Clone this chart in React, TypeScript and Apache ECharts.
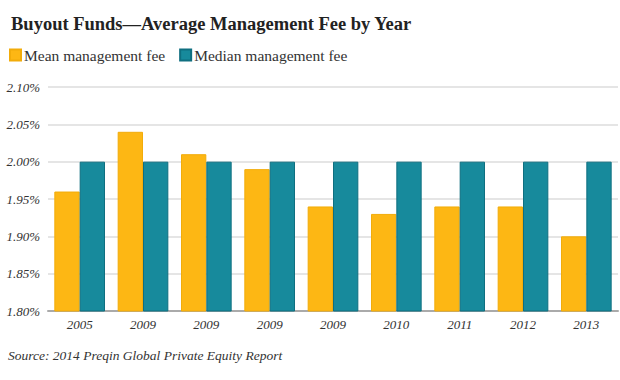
import React, { useEffect, useRef } from "react";
import * as echarts from "echarts";

const categories = ["2005", "2009", "2009", "2009", "2009", "2010", "2011", "2012", "2013"];
const meanFee = [1.96, 2.04, 2.01, 1.99, 1.94, 1.93, 1.94, 1.94, 1.9];
const medianFee = [2.0, 2.0, 2.0, 2.0, 2.0, 2.0, 2.0, 2.0, 2.0];
const seriesNames = ["Mean management fee", "Median management fee"];
const titleText = "Buyout Funds\u2014Average Management Fee by Year";
const sourceText = "Source: 2014 Preqin Global Private Equity Report";

export default function App() {
  const ref = useRef<HTMLDivElement>(null);
  useEffect(() => {
    if (!ref.current) return;
    const chart = echarts.init(ref.current, null, { renderer: "svg" });
    const serif = "'Liberation Serif', 'DejaVu Serif', serif";
    chart.setOption({
      animation: false,
      backgroundColor: "#ffffff",
      title: {
        text: titleText,
        left: 6,
        top: 9,
        textStyle: { fontFamily: serif, fontWeight: "bold", fontSize: 18.5, color: "#222" },
      },
      legend: {
        left: 4,
        top: 42,
        icon: "rect",
        itemWidth: 11,
        itemHeight: 11,
        itemGap: 14,
        textStyle: { fontFamily: serif, fontSize: 15.5, color: "#333", padding: [0, 0, 0, -2] },
        data: seriesNames,
      },
      graphic: [
        {
          type: "text",
          left: 8,
          top: 348,
          style: { text: sourceText, font: "italic 13.5px " + serif, fill: "#333" },
        },
      ],
      grid: { left: 48, right: 2, top: 87, bottom: 69, containLabel: false },
      xAxis: {
        type: "category",
        data: categories,
        axisLine: { lineStyle: { color: "#aaaaaa", width: 2 } },
        axisTick: { show: false },
        axisLabel: { fontFamily: serif, fontStyle: "italic", fontSize: 13, color: "#333", margin: 7 },
      },
      yAxis: {
        type: "value",
        min: 1.8,
        max: 2.1,
        interval: 0.05,
        axisLine: { show: false },
        axisTick: { show: false },
        splitLine: { lineStyle: { color: "#dddddd", width: 1.5 } },
        axisLabel: {
          fontFamily: serif,
          fontStyle: "italic",
          fontSize: 13,
          color: "#333",
          margin: 8,
          formatter: (v: number) => v.toFixed(2) + "%",
        },
      },
      series: [
        {
          name: seriesNames[0],
          type: "bar",
          data: meanFee,
          barGap: "0%",
          barCategoryGap: "20%",
          itemStyle: { color: "#fdb714", borderColor: "#f2ac0a", borderWidth: 1 },
        },
        {
          name: seriesNames[1],
          type: "bar",
          data: medianFee,
          itemStyle: { color: "#178a9c", borderColor: "#0f6f80", borderWidth: 1 },
        },
      ],
    });
    return () => chart.dispose();
  }, []);
  return <div ref={ref} style={{ width: 620, height: 380, position: "absolute", left: 0, top: 0 }} />;
}
